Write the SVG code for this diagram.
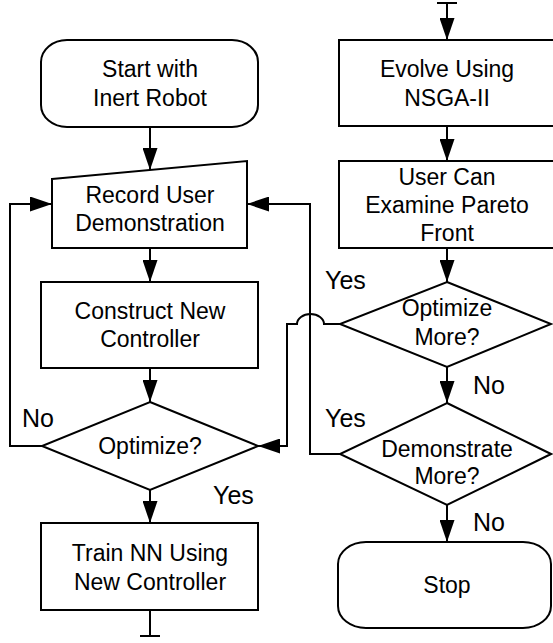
<svg xmlns="http://www.w3.org/2000/svg" width="553" height="643" viewBox="0 0 553 643">
  <style>
    .shape { fill: #ffffff; stroke: #000000; stroke-width: 2; }
    .wire { fill: none; stroke: #000000; stroke-width: 2; }
    .t { font-family: "Liberation Sans", Arial, Helvetica, sans-serif; font-size: 23px; fill: #000000; text-anchor: middle; }
    .lbl { font-family: "Liberation Sans", Arial, Helvetica, sans-serif; font-size: 25px; fill: #000000; }
  </style>
  <defs>
    <marker id="arrow" markerUnits="userSpaceOnUse" markerWidth="22" markerHeight="15" refX="22" refY="7.5" orient="auto">
      <path d="M0,0 L22,7.5 L0,15 Z" fill="#000000"/>
    </marker>
  </defs>
  <rect width="553" height="643" fill="#ffffff"/>

  <!-- connectors -->
  <g id="connectors">
    <line class="wire" x1="150" y1="127" x2="150" y2="170" marker-end="url(#arrow)"/>
    <line class="wire" x1="150" y1="248" x2="150" y2="282" marker-end="url(#arrow)"/>
    <line class="wire" x1="150" y1="368" x2="150" y2="402" marker-end="url(#arrow)"/>
    <line class="wire" x1="150" y1="490" x2="150" y2="523" marker-end="url(#arrow)"/>
    <path class="wire" d="M150,610 V636 M140,636 H160"/>
    <polyline class="wire" points="42,446 10,446 10,204 52,204" marker-end="url(#arrow)"/>
    <path class="wire" d="M437,3 H457"/>
    <line class="wire" x1="447" y1="3" x2="447" y2="40" marker-end="url(#arrow)"/>
    <line class="wire" x1="447" y1="126" x2="447" y2="161" marker-end="url(#arrow)"/>
    <line class="wire" x1="447" y1="248" x2="447" y2="282" marker-end="url(#arrow)"/>
    <line class="wire" x1="447" y1="367" x2="447" y2="403" marker-end="url(#arrow)"/>
    <line class="wire" x1="447" y1="505" x2="447" y2="542" marker-end="url(#arrow)"/>
    <polyline class="wire" points="340,454 310,454 310,204 247,204" marker-end="url(#arrow)"/>
    <path class="wire" d="M340,324 H324 A13.5,10 0 0 0 297,324 H287 V446 H258" marker-end="url(#arrow)"/>
    <text class="lbl" x="22" y="427">No</text>
    <text class="lbl" x="213" y="504">Yes</text>
    <text class="lbl" x="325" y="289">Yes</text>
    <text class="lbl" x="473" y="394">No</text>
    <text class="lbl" x="325" y="427">Yes</text>
    <text class="lbl" x="473" y="531">No</text>
  </g>

  <g id="start">
    <rect class="shape" x="41" y="40" width="217" height="87" rx="26" ry="22"/>
    <text class="t" x="150" y="77">Start with</text>
    <text class="t" x="150" y="106">Inert Robot</text>
  </g>

  <g id="record">
    <polygon class="shape" points="52,179 247,161 247,248 52,248"/>
    <text class="t" x="150" y="203">Record User</text>
    <text class="t" x="150" y="231">Demonstration</text>
  </g>

  <g id="construct">
    <rect class="shape" x="41" y="282" width="217" height="86"/>
    <text class="t" x="150" y="319">Construct New</text>
    <text class="t" x="150" y="347">Controller</text>
  </g>

  <g id="optimize">
    <polygon class="shape" points="150,402 258,446 150,490 42,446"/>
    <text class="t" x="150" y="454">Optimize?</text>
  </g>

  <g id="train">
    <rect class="shape" x="41" y="523" width="217" height="87"/>
    <text class="t" x="150" y="561">Train NN Using</text>
    <text class="t" x="150" y="590">New Controller</text>
  </g>

  <g id="evolve">
    <rect class="shape" x="339" y="40" width="217" height="86"/>
    <text class="t" x="447" y="77">Evolve Using</text>
    <text class="t" x="447" y="106">NSGA-II</text>
  </g>

  <g id="examine">
    <rect class="shape" x="339" y="161" width="217" height="87"/>
    <text class="t" x="447" y="185">User Can</text>
    <text class="t" x="447" y="213">Examine Pareto</text>
    <text class="t" x="447" y="241">Front</text>
  </g>

  <g id="optimize-more">
    <polygon class="shape" points="447,282 551,324 447,367 340,324"/>
    <text class="t" x="447" y="316">Optimize</text>
    <text class="t" x="447" y="345">More?</text>
  </g>

  <g id="demonstrate-more">
    <polygon class="shape" points="447,403 551,454 447,505 340,454"/>
    <text class="t" x="447" y="457">Demonstrate</text>
    <text class="t" x="447" y="484">More?</text>
  </g>

  <g id="stop">
    <rect class="shape" x="338" y="542" width="213" height="86" rx="28" ry="22"/>
    <text class="t" x="447" y="593">Stop</text>
  </g>
</svg>
